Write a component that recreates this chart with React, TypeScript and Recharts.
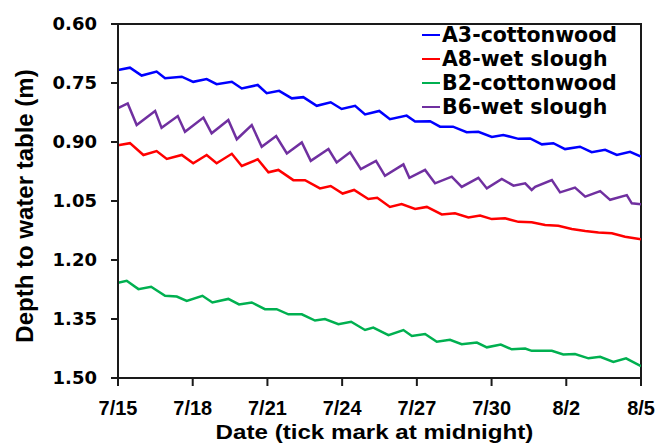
import { LineChart, Line, XAxis, YAxis, ReferenceArea, Legend, Label } from "recharts"

// x = days since 7/15 00:00, y = depth to water table in metres
const DATE_TICKS = [0, 3, 6, 9, 12, 15, 18, 21]
const DATE_LABELS = ["7/15", "7/18", "7/21", "7/24", "7/27", "7/30", "8/2", "8/5"]
const DEPTH_TICKS = [0.6, 0.75, 0.9, 1.05, 1.2, 1.35, 1.5]

const a3Days = [0, 0.48, 0.95, 1.55, 1.89, 2.56, 3.02, 3.56, 3.96, 4.57, 4.97, 5.61, 5.97, 6.47, 6.98, 7.44, 7.98, 8.54, 8.98, 9.52, 9.92, 10.49, 10.92, 11.59, 11.93, 12.53, 12.93, 13.45, 14.0, 14.47, 15.01, 15.47, 16.08, 16.55, 17.02, 17.48, 17.95, 18.55, 19.02, 19.56, 20.03, 20.56, 21.0]
const a3Depth = [0.717, 0.711, 0.731, 0.721, 0.738, 0.734, 0.747, 0.74, 0.753, 0.747, 0.764, 0.755, 0.776, 0.77, 0.789, 0.786, 0.808, 0.799, 0.816, 0.808, 0.83, 0.821, 0.842, 0.833, 0.848, 0.847, 0.861, 0.861, 0.875, 0.874, 0.887, 0.882, 0.892, 0.891, 0.906, 0.903, 0.918, 0.912, 0.926, 0.92, 0.933, 0.925, 0.937]

const a8Days = [0, 0.48, 1.02, 1.55, 1.96, 2.56, 3.02, 3.56, 3.96, 4.57, 4.97, 5.61, 6.04, 6.44, 7.04, 7.51, 8.11, 8.54, 9.02, 9.48, 10.05, 10.41, 10.92, 11.39, 11.93, 12.4, 13.0, 13.53, 14.07, 14.54, 15.01, 15.54, 16.08, 16.61, 17.15, 17.68, 18.22, 18.76, 19.29, 19.83, 20.36, 21.0]
const a8Depth = [0.908, 0.903, 0.933, 0.923, 0.943, 0.933, 0.954, 0.933, 0.954, 0.93, 0.961, 0.944, 0.977, 0.971, 0.997, 0.997, 1.018, 1.012, 1.031, 1.022, 1.045, 1.042, 1.065, 1.058, 1.07, 1.065, 1.084, 1.081, 1.092, 1.087, 1.096, 1.094, 1.103, 1.104, 1.111, 1.113, 1.121, 1.126, 1.13, 1.132, 1.141, 1.147]

const b2Days = [0, 0.35, 0.82, 1.33, 1.89, 2.36, 2.76, 3.39, 3.79, 4.43, 4.86, 5.37, 5.9, 6.37, 6.84, 7.38, 7.91, 8.31, 8.85, 9.36, 9.92, 10.25, 10.86, 11.46, 11.8, 12.33, 12.8, 13.33, 13.8, 14.41, 14.81, 15.37, 15.81, 16.35, 16.61, 17.42, 17.88, 18.35, 18.89, 19.36, 19.89, 20.4, 21.0]
const b2Depth = [1.258, 1.253, 1.274, 1.268, 1.291, 1.293, 1.304, 1.291, 1.308, 1.299, 1.313, 1.308, 1.325, 1.325, 1.338, 1.338, 1.354, 1.35, 1.363, 1.357, 1.378, 1.372, 1.391, 1.378, 1.393, 1.388, 1.408, 1.403, 1.414, 1.41, 1.422, 1.415, 1.427, 1.425, 1.431, 1.431, 1.44, 1.439, 1.45, 1.446, 1.459, 1.45, 1.47]

const b6Days = [0, 0.39, 0.75, 1.49, 1.75, 2.4, 2.69, 3.43, 3.76, 4.43, 4.77, 5.37, 5.77, 6.35, 6.78, 7.38, 7.74, 8.45, 8.78, 9.32, 9.75, 10.36, 10.72, 11.46, 11.7, 12.33, 12.73, 13.4, 13.8, 14.47, 14.81, 15.41, 15.88, 16.35, 16.61, 16.75, 17.42, 17.75, 18.35, 18.76, 19.36, 19.76, 20.43, 20.63, 21.0]
const b6Depth = [0.814, 0.802, 0.857, 0.821, 0.864, 0.834, 0.874, 0.838, 0.878, 0.844, 0.893, 0.857, 0.912, 0.885, 0.929, 0.901, 0.948, 0.918, 0.952, 0.926, 0.969, 0.948, 0.986, 0.957, 0.991, 0.971, 1.005, 0.988, 1.014, 0.991, 1.018, 0.994, 1.011, 1.005, 1.022, 1.014, 0.997, 1.028, 1.016, 1.039, 1.025, 1.047, 1.035, 1.056, 1.058]

const toPoints = (days: number[], depth: number[]) => days.map((t, i) => ({ t, depth: depth[i] }))

const SERIES = [
  { name: "A3-cottonwood", color: "#0000ff", data: toPoints(a3Days, a3Depth) },
  { name: "A8-wet slough", color: "#ff0000", data: toPoints(a8Days, a8Depth) },
  { name: "B2-cottonwood", color: "#00b050", data: toPoints(b2Days, b2Depth) },
  { name: "B6-wet slough", color: "#7030a0", data: toPoints(b6Days, b6Depth) },
]

const ARIAL = "'Liberation Sans', Arial, sans-serif"
const WIDE = "'DejaVu Sans', sans-serif"
const AXIS = "#1a1a1a"

// date labels under the midnight ticks
function DateTick({ x, y, payload }: any) {
  const label = DATE_LABELS[DATE_TICKS.indexOf(payload.value)]
  return (
    <text
      transform={`translate(${x},${y + 29}) scale(0.95,1)`}
      textAnchor="middle"
      fontFamily={ARIAL}
      fontWeight="bold"
      fontSize={21}
      fill="#000"
    >
      {label}
    </text>
  )
}

function DepthTitle({ viewBox }: any) {
  const cy = viewBox.y + viewBox.height / 2 + 5
  return (
    <text
      transform={`translate(24,${cy}) rotate(-90)`}
      textAnchor="middle"
      dominantBaseline="central"
      fontFamily={ARIAL}
      fontWeight="bold"
      fontSize={24}
      fill="#000"
    >
      Depth to water table (m)
    </text>
  )
}

function DateTitle({ viewBox }: any) {
  const cx = viewBox.x + viewBox.width / 2 - 5
  return (
    <text
      transform={`translate(${cx},439) scale(1.15,1)`}
      textAnchor="middle"
      fontFamily={ARIAL}
      fontWeight="bold"
      fontSize={21}
      fill="#000"
    >
      Date (tick mark at midnight)
    </text>
  )
}

function SeriesKey() {
  return (
    <div style={{ fontFamily: WIDE, fontWeight: 700, fontSize: 20.5, lineHeight: "24px", color: "#000" }}>
      {SERIES.map((s) => (
        <div key={s.name} style={{ display: "flex", alignItems: "center", height: 24, whiteSpace: "nowrap" }}>
          <span style={{ display: "inline-block", width: 18, height: 2, background: s.color, marginRight: 2 }} />
          <span>{s.name}</span>
        </div>
      ))}
    </div>
  )
}

export default function App() {
  return (
    <div>
      <style>{"body{margin:0}"}</style>
      <LineChart width={655} height={444} margin={{ top: 24, right: 14, bottom: 6, left: 48 }}>
        <XAxis
          type="number"
          dataKey="t"
          domain={[0, 21]}
          ticks={DATE_TICKS}
          tick={<DateTick />}
          tickSize={8}
          tickMargin={0}
          height={60}
          stroke={AXIS}
          strokeWidth={2}
          allowDataOverflow
        >
          <Label content={<DateTitle />} />
        </XAxis>
        <YAxis
          type="number"
          reversed
          domain={[0.6, 1.5]}
          ticks={DEPTH_TICKS}
          tickFormatter={(v: number) => v.toFixed(2)}
          tick={{ fontFamily: WIDE, fontWeight: 700, fontSize: 18, fill: "#000" }}
          tickSize={7}
          tickMargin={14}
          width={70}
          stroke={AXIS}
          strokeWidth={2}
          allowDataOverflow
        >
          <Label content={<DepthTitle />} />
        </YAxis>
        <ReferenceArea x1={0} x2={21} y1={0.6} y2={1.5} fill="none" stroke={AXIS} strokeWidth={2} ifOverflow="visible" />
        {SERIES.map((s) => (
          <Line
            key={s.name}
            data={s.data}
            dataKey="depth"
            name={s.name}
            type="linear"
            stroke={s.color}
            strokeWidth={2.5}
            dot={false}
            isAnimationActive={false}
          />
        ))}
        <Legend
          layout="vertical"
          align="center"
          verticalAlign="middle"
          content={<SeriesKey />}
          wrapperStyle={{ top: 23, left: 422, width: 230, height: 96 }}
        />
      </LineChart>
    </div>
  )
}
